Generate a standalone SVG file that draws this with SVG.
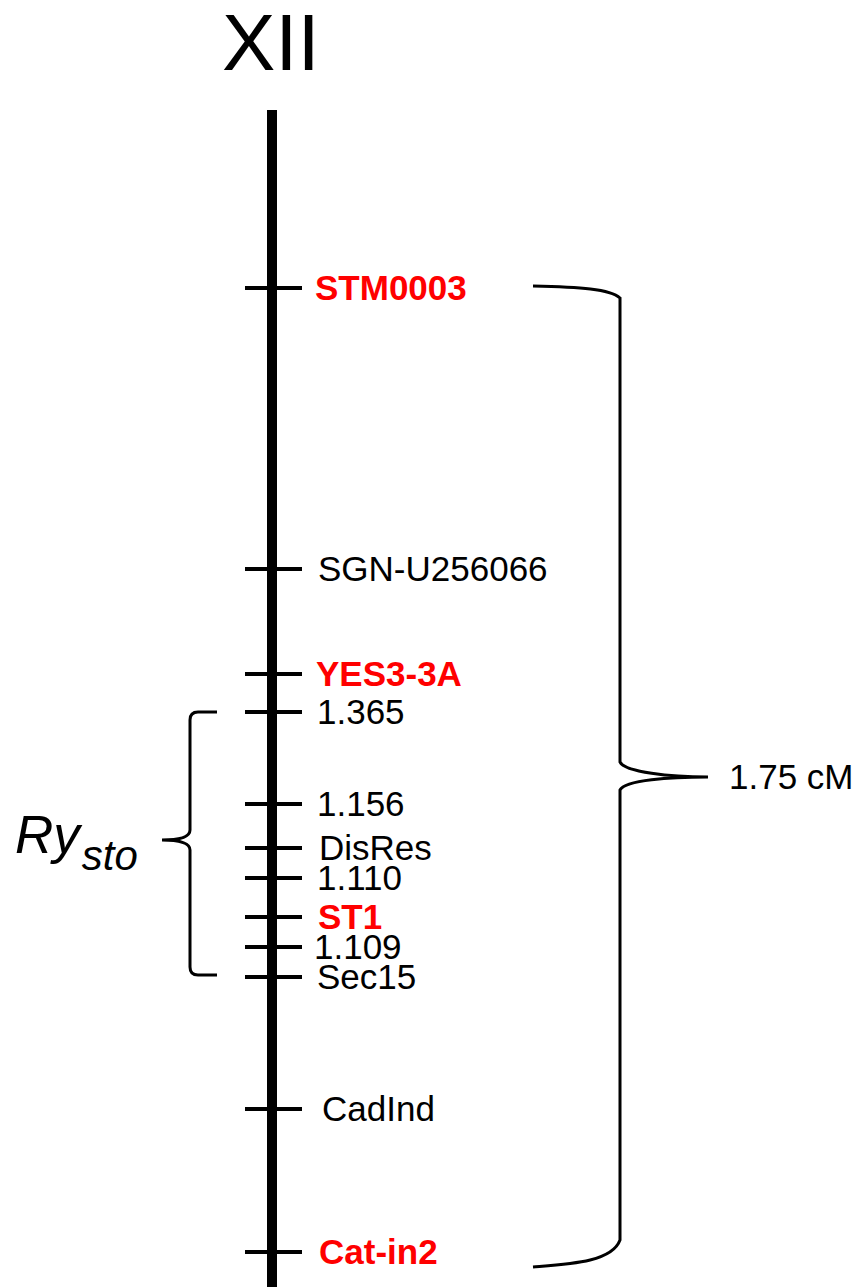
<svg xmlns="http://www.w3.org/2000/svg" width="860" height="1287" viewBox="0 0 860 1287">
<style>
.lbl{font-family:"Liberation Sans",Arial,sans-serif;font-size:35px;fill:#000}
.red{fill:#ff0000;font-weight:bold}
.tick{stroke:#000;stroke-width:4}
.brace{fill:none;stroke:#000;stroke-width:3;stroke-linecap:butt}
</style>
<rect width="860" height="1287" fill="#fff"/>
<text x="222" y="70" font-family="Liberation Sans,Arial,sans-serif" font-size="80">XII</text>
<g id="connectors">
<line x1="272" y1="110" x2="272" y2="1287" stroke="#000" stroke-width="10"/>
<path class="brace" d="M533,286 C580,287 610,289 620,298 L620,762 C625,772 670,777 708,777 C670,777 625,780 620,790 L620,1240 C612,1262 570,1264 533,1267"/>
<path class="brace" d="M217,712 L198,712 Q190,712 190,720 L190,830 Q190,840 162,840 Q190,840 190,850 L190,967 Q190,975 198,975 L217,975"/>
</g>
<g id="STM0003"><line class="tick" x1="245" y1="288" x2="302" y2="288"/><text class="lbl red" x="315" y="300">STM0003</text></g>
<g id="SGN-U256066"><line class="tick" x1="245" y1="569" x2="302" y2="569"/><text class="lbl" x="318" y="581">SGN-U256066</text></g>
<g id="YES3-3A"><line class="tick" x1="245" y1="674" x2="302" y2="674"/><text class="lbl red" x="316" y="686">YES3-3A</text></g>
<g id="m1365"><line class="tick" x1="245" y1="712" x2="302" y2="712"/><text class="lbl" x="317" y="724">1.365</text></g>
<g id="m1156"><line class="tick" x1="245" y1="804" x2="302" y2="804"/><text class="lbl" x="317" y="816">1.156</text></g>
<g id="DisRes"><line class="tick" x1="245" y1="848" x2="302" y2="848"/><text class="lbl" x="319" y="860">DisRes</text></g>
<g id="m1110"><line class="tick" x1="245" y1="878" x2="302" y2="878"/><text class="lbl" x="317" y="890">1.110</text></g>
<g id="ST1"><line class="tick" x1="245" y1="917" x2="302" y2="917"/><text class="lbl red" x="318" y="929">ST1</text></g>
<g id="m1109"><line class="tick" x1="245" y1="947" x2="302" y2="947"/><text class="lbl" x="314" y="959">1.109</text></g>
<g id="Sec15"><line class="tick" x1="245" y1="977" x2="302" y2="977"/><text class="lbl" x="317" y="989">Sec15</text></g>
<g id="CadInd"><line class="tick" x1="245" y1="1109" x2="302" y2="1109"/><text class="lbl" x="322" y="1121">CadInd</text></g>
<g id="Cat-in2"><line class="tick" x1="245" y1="1252" x2="302" y2="1252"/><text class="lbl red" x="319" y="1264">Cat-in2</text></g>
<g id="cM"><text class="lbl" x="729" y="789">1.75 cM</text></g>
<g id="Rysto"><text font-family="Liberation Sans,Arial,sans-serif" font-style="italic" font-size="53" x="15" y="853">Ry<tspan font-size="42" dy="17" dx="2">sto</tspan></text></g>
</svg>
